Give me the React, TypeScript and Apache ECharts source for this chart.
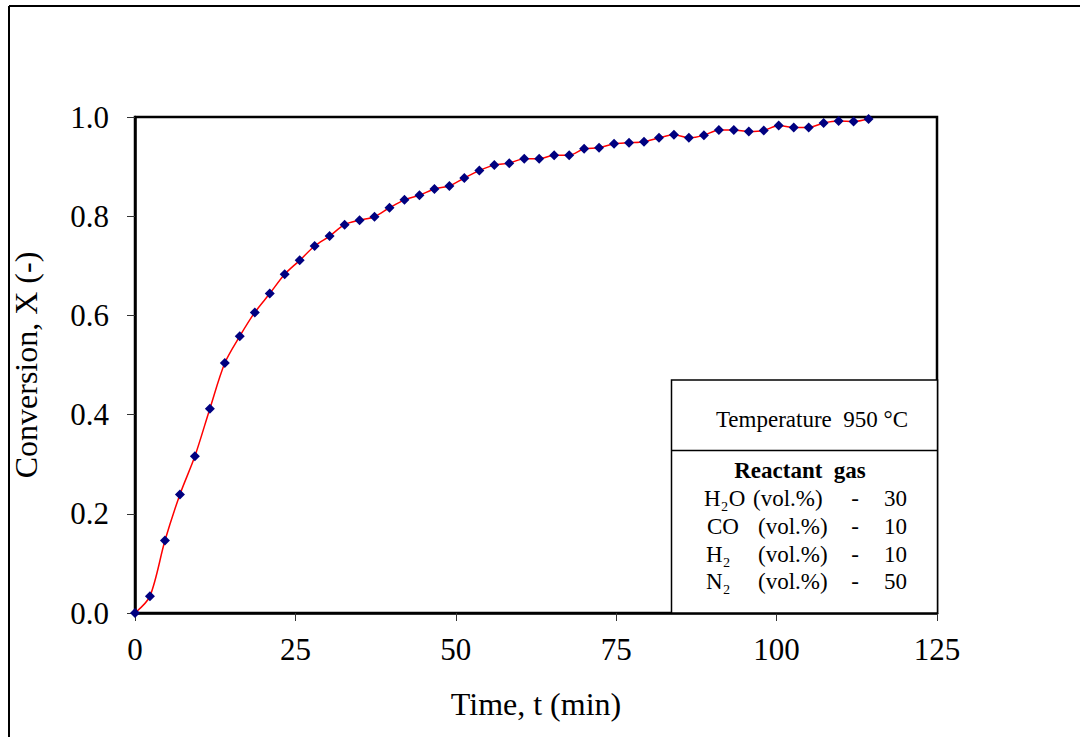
import React, { useEffect, useRef } from "react";
import * as echarts from "echarts";

const times: number[] = [
  0, 2.33, 4.67, 7, 9.33, 11.67, 14, 16.33, 18.67, 21, 23.33, 25.67, 28, 30.33,
  32.67, 35, 37.33, 39.67, 42, 44.33, 46.67, 49, 51.33, 53.67, 56, 58.33, 60.67,
  63, 65.33, 67.67, 70, 72.33, 74.67, 77, 79.33, 81.67, 84, 86.33, 88.67, 91,
  93.33, 95.67, 98, 100.33, 102.67, 105, 107.33, 109.67, 112, 114.33,
];
const conversion: number[] = [
  0, 0.034, 0.146, 0.239, 0.316, 0.412, 0.504, 0.558, 0.606, 0.644, 0.683,
  0.711, 0.74, 0.76, 0.783, 0.792, 0.799, 0.817, 0.833, 0.842, 0.855, 0.861,
  0.877, 0.892, 0.903, 0.907, 0.916, 0.916, 0.923, 0.923, 0.936, 0.938, 0.946,
  0.948, 0.95, 0.958, 0.964, 0.958, 0.963, 0.974, 0.974, 0.971, 0.973, 0.983,
  0.979, 0.979, 0.988, 0.992, 0.991, 0.996,
];
const xTicks = { min: 0, max: 125, interval: 25 };
const yTicks = { min: 0, max: 1, interval: 0.2 };
const temperatureLabel = "Temperature  950 °C";
const gasTitle = "Reactant  gas";
const gasNames: string[] = ["H₂O", "CO", "H₂", "N₂"];
const gasValues: number[] = [30, 10, 10, 50];

const FONT = "'Liberation Serif', 'Times New Roman', serif";

export default function App() {
  const ref = useRef<HTMLDivElement>(null);
  useEffect(() => {
    if (!ref.current) return;
    const chart = echarts.init(ref.current, undefined, { renderer: "svg" });
    const rowY = [498, 526, 554, 581];
    const nameX = [704, 707, 706, 706];
    const volX = [753, 758, 758, 758];
    const rowEls: any[] = [];
    gasNames.forEach((n, i) => {
      const base = { fontFamily: FONT, fontSize: 23, fill: "#000", verticalAlign: "middle" };
      rowEls.push({ type: "text", x: nameX[i], y: rowY[i], style: { ...base, text: n, align: "left" } });
      rowEls.push({ type: "text", x: volX[i], y: rowY[i], style: { ...base, text: "(vol.%)", align: "left" } });
      rowEls.push({ type: "text", x: 855, y: rowY[i], style: { ...base, text: "-", align: "center" } });
      rowEls.push({ type: "text", x: 907, y: rowY[i], style: { ...base, text: String(gasValues[i]), align: "right" } });
    });
    chart.setOption({
      animation: false,
      backgroundColor: "#fff",
      grid: {
        left: 135,
        right: 143,
        top: 117,
        bottom: 124,
        show: true,
        borderColor: "#000",
        borderWidth: 2.5,
        backgroundColor: "transparent",
      },
      xAxis: {
        type: "value",
        min: xTicks.min,
        max: xTicks.max,
        interval: xTicks.interval,
        name: "Time, t (min)",
        nameLocation: "middle",
        nameGap: 75,
        nameTextStyle: { fontFamily: FONT, fontSize: 32, color: "#000" },
        axisLine: { show: true, lineStyle: { color: "#000", width: 2.5 } },
        axisTick: { show: true, inside: false, length: 8, lineStyle: { color: "#333", width: 1 } },
        axisLabel: { fontFamily: FONT, fontSize: 31, color: "#000", margin: 21 },
        splitLine: { show: false },
      },
      yAxis: {
        type: "value",
        min: yTicks.min,
        max: yTicks.max,
        interval: yTicks.interval,
        name: "Conversion, X (-)",
        nameLocation: "middle",
        nameGap: 93,
        nameTextStyle: { fontFamily: FONT, fontSize: 32, color: "#000" },
        axisLine: { show: true, lineStyle: { color: "#000", width: 2.5 } },
        axisTick: { show: true, inside: false, length: 8, lineStyle: { color: "#333", width: 1 } },
        axisLabel: {
          fontFamily: FONT,
          fontSize: 31,
          color: "#000",
          margin: 26,
          formatter: (v: number) => v.toFixed(1),
        },
        splitLine: { show: false },
      },
      series: [
        {
          type: "line",
          data: times.map((t, i) => [t, conversion[i]]),
          smooth: 0.3,
          symbol: "diamond",
          symbolSize: 10,
          itemStyle: { color: "#000080" },
          lineStyle: { color: "#ff0000", width: 1.5 },
          z: 3,
        },
      ],
      graphic: [
        { type: "line", shape: { x1: 9, y1: 6, x2: 1085, y2: 6 }, style: { stroke: "#000", lineWidth: 2 } },
        { type: "line", shape: { x1: 9, y1: 6, x2: 9, y2: 740 }, style: { stroke: "#000", lineWidth: 2 } },
        {
          type: "rect",
          shape: { x: 671.5, y: 380, width: 266, height: 233 },
          style: { fill: "#fff", stroke: "#000", lineWidth: 1.5 },
          z: 10,
        },
        {
          type: "line",
          shape: { x1: 671.5, y1: 450.5, x2: 937, y2: 450.5 },
          style: { stroke: "#000", lineWidth: 1.5 },
          z: 11,
        },
        {
          type: "text",
          x: 812,
          y: 419,
          z: 11,
          style: { text: temperatureLabel, fontFamily: FONT, fontSize: 23, fill: "#000", align: "center", verticalAlign: "middle" },
        },
        {
          type: "text",
          x: 800,
          y: 470,
          z: 11,
          style: { text: gasTitle, fontFamily: FONT, fontSize: 23, fontWeight: "bold", fill: "#000", align: "center", verticalAlign: "middle" },
        },
        ...rowEls.map((e) => ({ ...e, z: 11 })),
      ],
    });
    return () => chart.dispose();
  }, []);
  return (
    <div
      ref={ref}
      style={{ position: "fixed", left: 0, top: 0, width: 1080, height: 737, background: "#fff" }}
    />
  );
}
